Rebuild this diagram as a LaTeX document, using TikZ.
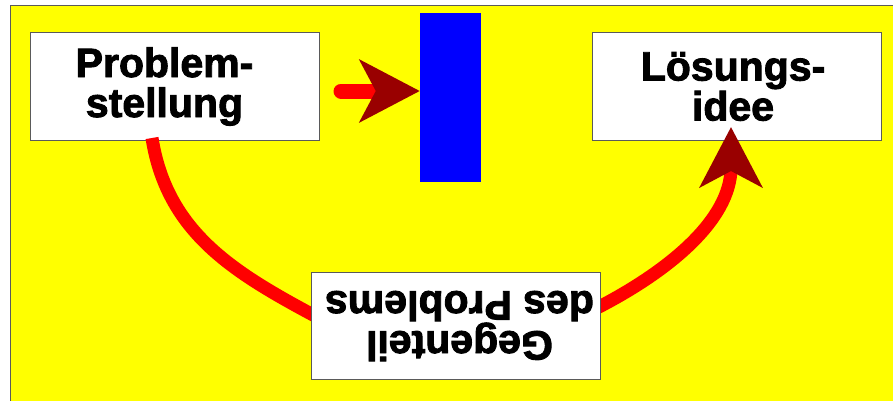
\documentclass[tikz,border=0pt]{standalone}
\usepackage{fontspec}
\setmainfont{Liberation Sans}
\newfontfamily\heavyfont[FakeBold=2.2]{Liberation Sans Bold}
\usetikzlibrary{arrows.meta}
\definecolor{bgyellow}{RGB}{255,255,0}
\definecolor{arrowred}{RGB}{255,0,0}
\definecolor{tipred}{RGB}{153,0,0}
\definecolor{boxline}{RGB}{90,90,90}
\tikzset{
  textbox/.style={draw=boxline, line width=1pt, fill=white, minimum width=289pt, minimum height=107pt,
    align=center, inner sep=0pt, font=\heavyfont\fontsize{41}{40}\selectfont},
  bigarrow/.style={draw=arrowred, line width=13pt, line cap=round,
    -{Stealth[length=60pt,width=62pt,inset=16pt,color=tipred]}},
}
\begin{document}
\begin{tikzpicture}[x=1pt,y=1pt]
\useasboundingbox (0,0) rectangle (893,400);
\fill[white] (0,0) rectangle (893,400);
\node[draw=boxline, line width=1pt, fill=bgyellow, minimum width=900pt, minimum height=410pt, inner sep=0pt, anchor=north west] (bg) at (10,395) {};
\node[textbox] (prob) at (174.5,313.5) {Problem-\hspace*{20pt}\\stellung\hspace*{20pt}};
\node[textbox] (loes) at (737,313.5) {Lösungs-\hspace*{8pt}\\idee\hspace*{8pt}};
\node[fill=blue, minimum width=61pt, minimum height=169pt, inner sep=0pt] (wall) at (450.5,302.5) {};
\coordinate (s1) at (341,309);
\draw[bigarrow, line width=15pt] (s1) -- (s1 -| wall.west);
\coordinate (c1) at (152,262);
\coordinate (c2) at (330,76);
\coordinate (c3) at (585,86);
\coordinate (c4) at (731,273);
\draw[draw=arrowred, line width=13pt] (c1) to[out=-81,in=152] (c2);
\draw[bigarrow, line cap=butt] (c3) to[out=26,in=-90] (c4);
\node[textbox, rotate=180] (gegen) at (455.5,74) {Gegenteil\hspace*{8pt}\\des Problems\hspace*{8pt}};
\end{tikzpicture}
\end{document}
